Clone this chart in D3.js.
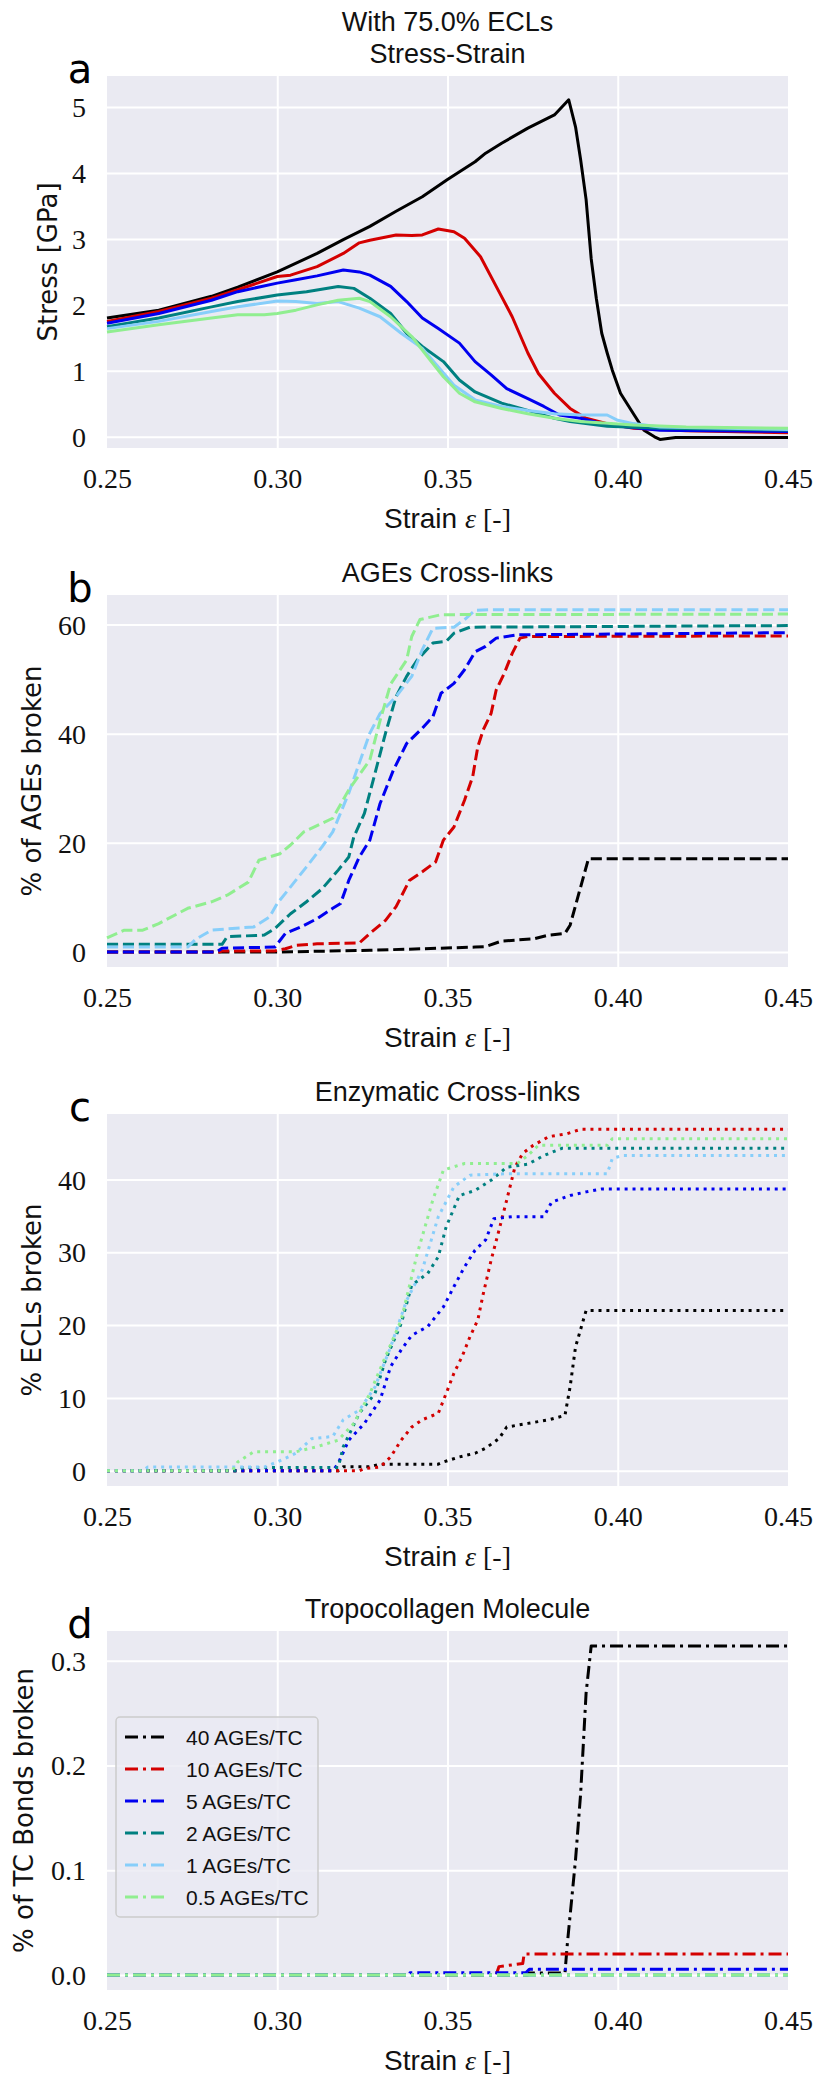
<!DOCTYPE html>
<html><head><meta charset="utf-8">
<script src="https://cdn.jsdelivr.net/npm/d3@7"></script>
<style>body{margin:0;background:#fff}</style>
</head><body>
<svg id="chart" width="828" height="2100"></svg>
<script>
// ---------- data ----------
const seriesLabels = ["40 AGEs/TC","10 AGEs/TC","5 AGEs/TC","2 AGEs/TC","1 AGEs/TC","0.5 AGEs/TC"];
const seriesColors = ["#000000","#d40000","#0000f0","#008080","#87cefa","#90ee90"];
const xTicks = [0.25,0.30,0.35,0.40,0.45];

// Panel a: stress [GPa] vs strain
const stress40 = [[0.250,1.80],[0.2652,1.92],[0.2807,2.13],[0.2884,2.27],[0.3000,2.50],[0.3117,2.78],[0.3194,2.99],[0.3272,3.19],[0.3349,3.42],[0.3426,3.64],[0.3500,3.90],[0.3581,4.17],[0.3612,4.30],[0.3659,4.45],[0.3736,4.68],[0.3814,4.88],[0.3856,5.11],[0.3876,4.70],[0.3891,4.20],[0.3907,3.60],[0.3922,2.70],[0.3937,2.10],[0.3953,1.57],[0.3969,1.27],[0.3984,1.01],[0.4008,0.66],[0.4046,0.35],[0.4077,0.10],[0.4108,0.00],[0.4124,-0.04],[0.4170,-0.01],[0.4500,-0.01]];
const stress10 = [[0.250,1.75],[0.2652,1.90],[0.2807,2.10],[0.2884,2.23],[0.3000,2.43],[0.3039,2.45],[0.3117,2.58],[0.3194,2.78],[0.3241,2.94],[0.3272,2.98],[0.3349,3.06],[0.3395,3.05],[0.3426,3.06],[0.3473,3.15],[0.3519,3.11],[0.3550,3.01],[0.3597,2.73],[0.3643,2.28],[0.3690,1.82],[0.3736,1.27],[0.3767,0.96],[0.3814,0.66],[0.3860,0.43],[0.3907,0.28],[0.3969,0.20],[0.4046,0.13],[0.4201,0.09],[0.4500,0.06]];
const stress5 = [[0.250,1.72],[0.2652,1.87],[0.2807,2.07],[0.2884,2.20],[0.3000,2.33],[0.3055,2.38],[0.3117,2.44],[0.3194,2.53],[0.3241,2.50],[0.3272,2.45],[0.3333,2.28],[0.3380,2.05],[0.3426,1.80],[0.3473,1.64],[0.3535,1.42],[0.3581,1.14],[0.3628,0.94],[0.3674,0.73],[0.3736,0.58],[0.3783,0.46],[0.3829,0.33],[0.3891,0.28],[0.3969,0.18],[0.4124,0.10],[0.4500,0.08]];
const stress2 = [[0.250,1.67],[0.2652,1.80],[0.2807,1.97],[0.2884,2.05],[0.3000,2.15],[0.3086,2.20],[0.3179,2.28],[0.3225,2.25],[0.3272,2.10],[0.3333,1.87],[0.3380,1.57],[0.3426,1.37],[0.3488,1.14],[0.3535,0.86],[0.3581,0.68],[0.3659,0.51],[0.3736,0.40],[0.3814,0.28],[0.3860,0.23],[0.3969,0.16],[0.4124,0.13],[0.4500,0.10]];
const stress1 = [[0.250,1.64],[0.2652,1.75],[0.2807,1.90],[0.2884,1.97],[0.3000,2.06],[0.3055,2.05],[0.3117,2.02],[0.3179,2.05],[0.3241,1.95],[0.3302,1.82],[0.3364,1.57],[0.3426,1.34],[0.3473,1.06],[0.3519,0.78],[0.3581,0.56],[0.3659,0.46],[0.3736,0.40],[0.3814,0.35],[0.3891,0.33],[0.3969,0.33],[0.4000,0.25],[0.4046,0.20],[0.4124,0.15],[0.4500,0.11]];
const stress05 = [[0.250,1.59],[0.2652,1.70],[0.2807,1.80],[0.2884,1.85],[0.2962,1.85],[0.3000,1.87],[0.3055,1.92],[0.3117,2.00],[0.3179,2.07],[0.3241,2.10],[0.3272,2.05],[0.3333,1.82],[0.3395,1.52],[0.3442,1.21],[0.3488,0.91],[0.3535,0.66],[0.3581,0.53],[0.3659,0.43],[0.3736,0.35],[0.3814,0.28],[0.3891,0.23],[0.4046,0.18],[0.4201,0.15],[0.4500,0.13]];

// Panel b: % of AGEs broken
const ages40 = [[0.25,0],[0.30,0],[0.3272,0.3],[0.3581,0.9],[0.3612,1.0],[0.3659,2.0],[0.3752,2.4],[0.3798,3.1],[0.3845,3.4],[0.3860,4.9],[0.3891,11.9],[0.3914,17.1],[0.45,17.1]];
const ages10 = [[0.25,0],[0.2830,0],[0.2838,0.2],[0.2993,0.2],[0.3024,0.6],[0.3055,1.2],[0.3117,1.5],[0.3241,1.65],[0.3272,3.4],[0.3318,5.8],[0.3349,8.3],[0.3388,13.1],[0.3426,14.7],[0.3465,16.5],[0.3488,20.5],[0.3519,22.9],[0.3550,27.8],[0.3574,32.1],[0.3589,37.6],[0.3605,40.7],[0.3628,43.7],[0.3643,48.0],[0.3667,51.1],[0.3690,54.7],[0.3713,57.5],[0.3736,57.8],[0.45,57.9]];
const ages5 = [[0.25,0],[0.2822,0],[0.2838,0.7],[0.2993,0.9],[0.3024,3.4],[0.3070,4.6],[0.3117,6.1],[0.3163,8.0],[0.3186,8.9],[0.3210,13.1],[0.3241,17.4],[0.3272,20.5],[0.3302,27.2],[0.3341,33.3],[0.3380,38.2],[0.3426,41.0],[0.3457,43.1],[0.3481,47.4],[0.3519,49.2],[0.3550,51.7],[0.3581,55.0],[0.3612,56.0],[0.3643,57.5],[0.3705,58.1],[0.45,58.5]];
const ages2 = [[0.25,1.4],[0.2838,1.4],[0.2853,2.8],[0.2962,3.1],[0.2993,4.3],[0.3039,7.0],[0.3086,9.2],[0.3132,11.6],[0.3179,15.0],[0.3210,17.4],[0.3225,21.1],[0.3256,25.4],[0.3287,32.7],[0.3318,40.1],[0.3349,46.8],[0.3380,50.5],[0.3411,53.5],[0.3457,56.6],[0.3496,56.9],[0.3519,58.4],[0.3566,59.5],[0.45,59.8]];
const ages1 = [[0.25,0.9],[0.2737,0.9],[0.2760,2.3],[0.2807,4.0],[0.2931,4.6],[0.2977,6.4],[0.3000,8.9],[0.3031,11.3],[0.3086,15.6],[0.3132,19.3],[0.3163,22.0],[0.3210,29.1],[0.3241,34.6],[0.3272,40.1],[0.3302,43.7],[0.3349,46.8],[0.3395,50.5],[0.3426,55.4],[0.3457,59.3],[0.3519,59.5],[0.3550,60.9],[0.3581,62.6],[0.3628,62.7],[0.45,62.7]];
const ages05 = [[0.25,2.6],[0.2551,4.0],[0.2605,4.0],[0.2652,5.2],[0.2737,8.0],[0.2807,9.2],[0.2853,10.4],[0.2915,12.8],[0.2946,16.8],[0.3008,18.0],[0.3039,19.6],[0.3078,22.0],[0.3163,24.5],[0.3210,29.7],[0.3272,35.2],[0.3302,42.4],[0.3333,49.1],[0.3380,53.5],[0.3395,57.8],[0.3419,60.9],[0.3481,61.8],[0.45,61.9]];

// Panel c: % ECLs broken
const ecl40 = [[0.25,0],[0.3179,0],[0.3194,0.55],[0.3272,0.55],[0.3302,0.9],[0.3473,0.9],[0.3488,1.2],[0.3535,1.9],[0.3581,2.4],[0.3612,3.1],[0.3651,4.4],[0.3674,6.0],[0.3736,6.5],[0.3798,7.0],[0.3845,7.6],[0.3860,11.5],[0.3876,17.0],[0.3907,22.0],[0.45,22.0]];
const ecl10 = [[0.25,0],[0.3241,0],[0.3256,0.3],[0.3302,0.5],[0.3333,1.9],[0.3364,4.2],[0.3395,6.0],[0.3426,7.0],[0.3473,7.9],[0.3496,10.6],[0.3519,13.4],[0.3543,15.7],[0.3566,18.4],[0.3589,20.7],[0.3605,24.3],[0.3628,28.9],[0.3651,33.0],[0.3674,37.2],[0.3698,41.7],[0.3721,43.6],[0.3752,44.7],[0.3798,45.9],[0.3852,46.3],[0.3891,46.9],[0.45,46.9]];
const ecl5 = [[0.25,0],[0.3163,0],[0.3179,1.0],[0.3210,4.2],[0.3256,6.5],[0.3302,9.7],[0.3333,14.3],[0.3364,16.6],[0.3395,18.6],[0.3442,19.8],[0.3488,22.5],[0.3519,25.3],[0.3550,28.0],[0.3581,30.3],[0.3612,31.7],[0.3636,34.6],[0.3690,34.9],[0.3783,34.9],[0.3806,36.9],[0.3860,37.8],[0.3907,38.3],[0.3953,38.7],[0.45,38.7]];
const ecl2 = [[0.25,0],[0.2884,0],[0.2900,0.45],[0.3179,0.45],[0.3194,3.3],[0.3241,7.9],[0.3287,10.6],[0.3318,15.2],[0.3364,20.2],[0.3395,25.5],[0.3442,27.1],[0.3473,29.4],[0.3496,33.5],[0.3535,37.8],[0.3581,38.5],[0.3628,39.9],[0.3674,41.7],[0.3736,42.1],[0.3783,43.3],[0.3837,44.3],[0.45,44.3]];
const ecl1 = [[0.25,0],[0.2605,0],[0.2620,0.5],[0.2962,0.5],[0.3000,1.2],[0.3055,2.4],[0.3101,4.4],[0.3163,4.7],[0.3194,7.0],[0.3241,8.3],[0.3287,11.5],[0.3333,17.0],[0.3380,23.4],[0.3426,27.6],[0.3473,34.9],[0.3519,39.0],[0.3566,40.6],[0.3674,40.8],[0.3969,40.8],[0.3984,42.9],[0.4015,43.3],[0.45,43.3]];
const ecl05 = [[0.25,0],[0.2868,0],[0.2884,1.2],[0.2931,2.6],[0.3055,2.6],[0.3117,3.3],[0.3179,4.2],[0.3225,6.5],[0.3272,10.6],[0.3318,15.7],[0.3364,20.7],[0.3411,29.8],[0.3457,37.2],[0.3488,41.3],[0.3550,42.2],[0.3705,42.2],[0.3736,43.3],[0.3767,44.7],[0.3969,44.7],[0.3984,45.6],[0.45,45.6]];

// Panel d: % of TC bonds broken
const tc40 = [[0.25,0],[0.3736,0],[0.3740,0.002],[0.3845,0.002],[0.3852,0.03],[0.3876,0.11],[0.3891,0.173],[0.3907,0.269],[0.3922,0.314],[0.45,0.314]];
const tc10 = [[0.25,0],[0.3643,0],[0.3651,0.008],[0.3721,0.011],[0.3725,0.020],[0.45,0.020]];
const tc5 = [[0.25,0],[0.3388,0],[0.3390,0.0022],[0.3730,0.0022],[0.3740,0.0054],[0.45,0.0054]];
const tc2 = [[0.25,0],[0.45,0]];
const tc1 = [[0.25,0],[0.45,0]];
const tc05 = [[0.25,0],[0.45,0]];

const yTicksA = [0,1,2,3,4,5];
const yTicksB = [0,20,40,60];
const yTicksC = [0,10,20,30,40];
const yTicksD = [0.0,0.1,0.2,0.3];

// ---------- drawing ----------
const svg = d3.select("#chart");
const L = 107, R = 788;
const x = d3.scaleLinear().domain([0.25,0.45]).range([L,R]);

const panels = [
  {letter:"a", titles:["With 75.0% ECLs","Stress-Strain"], top:76, bottom:448, dom:[-0.17,5.47], ticks:yTicksA, fmt:d3.format("d"),
   ylabel:"Stress [GPa]", ylx:48, series:[stress40,stress10,stress5,stress2,stress1,stress05], dash:null},
  {letter:"b", titles:["AGEs Cross-links"], top:595, bottom:967, dom:[-2.75,65.4], ticks:yTicksB, fmt:d3.format("d"),
   ylabel:"% of AGEs broken", ylx:32, series:[ages40,ages10,ages5,ages2,ages1,ages05], dash:"11.1,4.8"},
  {letter:"c", titles:["Enzymatic Cross-links"], top:1114, bottom:1486, dom:[-2.1,49.0], ticks:yTicksC, fmt:d3.format("d"),
   ylabel:"% ECLs broken", ylx:32, series:[ecl40,ecl10,ecl5,ecl2,ecl1,ecl05], dash:"3,4.9"},
  {letter:"d", titles:["Tropocollagen Molecule"], top:1631, bottom:1990, dom:[-0.0143,0.3283], ticks:yTicksD, fmt:d3.format(".1f"),
   ylabel:"% of TC Bonds broken", ylx:24, series:[tc40,tc10,tc5,tc2,tc1,tc05], dash:"13,5,3,5", legend:true}
];

const serif = "'Liberation Serif', 'DejaVu Serif', serif";
const sans = "'Liberation Sans', Arial, sans-serif";
const sans2 = "'DejaVu Sans', sans-serif";

panels.forEach(p => {
  const y = d3.scaleLinear().domain(p.dom).range([p.bottom, p.top]);
  const g = svg.append("g");
  g.append("rect").attr("x",L).attr("y",p.top).attr("width",R-L).attr("height",p.bottom-p.top).attr("fill","#eaeaf2");
  // grid
  const gx = g.append("g").attr("transform",`translate(0,${p.bottom})`)
    .call(d3.axisBottom(x).tickValues(xTicks.slice(1,-1)).tickSize(-(p.bottom-p.top)).tickFormat(""));
  gx.select(".domain").remove();
  gx.selectAll("line").attr("stroke","#fff").attr("stroke-width",2);
  const gy = g.append("g").attr("transform",`translate(${L},0)`)
    .call(d3.axisLeft(y).tickValues(p.ticks).tickSize(-(R-L)).tickFormat(""));
  gy.select(".domain").remove();
  gy.selectAll("line").attr("stroke","#fff").attr("stroke-width",2);
  // tick labels
  const ax = g.append("g").attr("transform",`translate(0,${p.bottom})`)
    .call(d3.axisBottom(x).tickValues(xTicks).tickSize(0).tickFormat(d3.format(".2f")));
  ax.select(".domain").remove();
  ax.attr("font-family",serif).attr("font-size",28);
  ax.selectAll("text").attr("y",40).attr("dy",0).attr("fill","#111")
    .style("font-family",serif).style("font-size","28px");
  const ay = g.append("g").attr("transform",`translate(${L},0)`)
    .call(d3.axisLeft(y).tickValues(p.ticks).tickSize(0).tickFormat(p.fmt));
  ay.select(".domain").remove();
  ay.attr("font-family",serif).attr("font-size",28);
  ay.selectAll("text").attr("x",-21).attr("dy","0.34em").attr("fill","#111")
    .style("font-family",serif).style("font-size","28px");
  // lines
  const line = d3.line().x(d=>x(d[0])).y(d=>y(d[1]));
  p.series.forEach((s,i) => {
    const path = g.append("path").datum(s).attr("d",line).attr("fill","none")
      .attr("stroke",seriesColors[i]).attr("stroke-width",3).attr("stroke-linejoin","round");
    if (p.dash) path.attr("stroke-dasharray",p.dash);
  });
  // titles
  p.titles.forEach((t,i) => {
    g.append("text").attr("x",(L+R)/2).attr("y",p.top-13-(p.titles.length-1-i)*32)
      .attr("text-anchor","middle").style("font-family",sans).style("font-size","27px").attr("fill","#111").text(t);
  });
  // panel letter
  g.append("text").attr("x",80).attr("y",p.top+7).attr("text-anchor","middle")
    .style("font-family",sans2).style("font-size","40px").attr("fill","#000").text(p.letter);
  // x label
  const xl = g.append("text").attr("x",(L+R)/2).attr("y",p.bottom+80).attr("text-anchor","middle")
    .attr("fill","#111").style("font-size","28px");
  xl.append("tspan").style("font-family",sans).text("Strain ");
  xl.append("tspan").style("font-family",serif).style("font-style","italic").text("ε");
  xl.append("tspan").style("font-family",serif).text(" [-]");
  // y label
  g.append("text").attr("transform",`translate(${p.ylx},${(p.top+p.bottom)/2}) rotate(-90)`)
    .attr("text-anchor","middle").attr("dy","0.35em").style("font-family",sans2).style("font-size","26px")
    .attr("fill","#111").text(p.ylabel);
  // legend
  if (p.legend) {
    const lg = g.append("g");
    lg.append("rect").attr("x",116).attr("y",1717).attr("width",202).attr("height",200).attr("rx",4)
      .attr("fill","#eaeaf2").attr("fill-opacity",0.8).attr("stroke","#cccccc").attr("stroke-width",1.5);
    seriesLabels.forEach((lab,i) => {
      const yy = 1737 + i*32;
      lg.append("line").attr("x1",125).attr("x2",168).attr("y1",yy).attr("y2",yy)
        .attr("stroke",seriesColors[i]).attr("stroke-width",3).attr("stroke-dasharray",p.dash);
      lg.append("text").attr("x",186).attr("y",yy).attr("dy","0.36em").style("font-family",sans)
        .style("font-size","21px").attr("fill","#111").text(lab);
    });
  }
});
</script>
</body></html>
